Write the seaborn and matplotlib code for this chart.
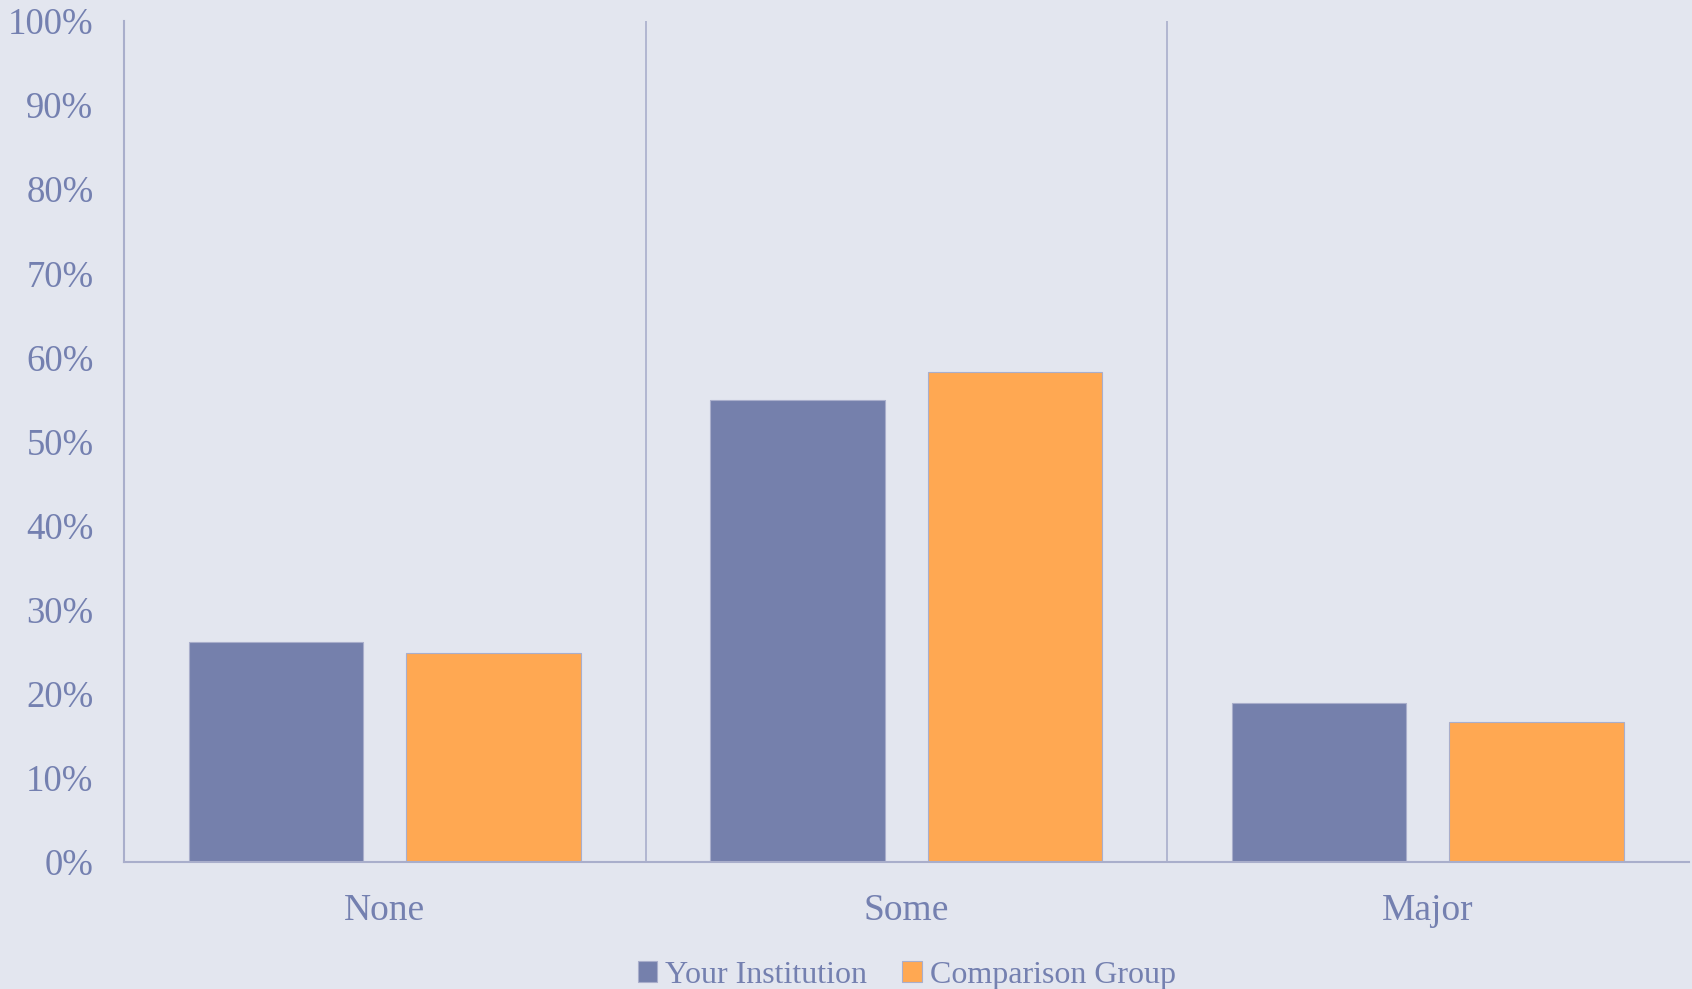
import matplotlib
matplotlib.use("Agg")
import matplotlib.pyplot as plt
import seaborn as sns
import pandas as pd
from matplotlib.ticker import PercentFormatter

categories = ["None", "Some", "Major"]
series_names = ["Your Institution", "Comparison Group"]
your_inst = [26.2, 54.9, 18.9]
comparison = [24.9, 58.3, 16.7]
yticks = [0, 10, 20, 30, 40, 50, 60, 70, 80, 90, 100]

bg = "#E3E6EF"
txt = "#7480B0"
line_c = "#A9AECB"
colors = ["#7580AC", "#FFA852"]

df = pd.DataFrame({
    "Category": categories * 2,
    "Series": [series_names[0]] * 3 + [series_names[1]] * 3,
    "Value": your_inst + comparison,
})

sns.set_style("white")
plt.rcParams["font.family"] = ["Liberation Serif", "DejaVu Serif"]

fig = plt.figure(figsize=(16.92, 9.89), dpi=100, facecolor=bg)
ax = fig.add_axes([0.0733, 0.1284, 0.9247, 0.8504])
ax.set_facecolor(bg)

sns.barplot(data=df, x="Category", y="Value", hue="Series", order=categories,
            hue_order=series_names, palette=colors, saturation=1,
            width=0.834, gap=0.197,
            edgecolor=line_c, linewidth=0.8, ax=ax, legend=True)

ax.set_xlim(-0.5, 2.5)
ax.set_ylim(0, 100)
ax.set_yticks(yticks)
ax.yaxis.set_major_formatter(PercentFormatter(decimals=0))
ax.set_xlabel("")
ax.set_ylabel("")
for x in [0.5, 1.5]:
    ax.axvline(x, color=line_c, lw=1.2, zorder=0)

for s in ["top", "right"]:
    ax.spines[s].set_visible(False)
for s in ["left", "bottom"]:
    ax.spines[s].set_color(line_c)
    ax.spines[s].set_linewidth(1.5)

ax.tick_params(axis="y", length=0, labelsize=26.5, labelcolor=txt, pad=22)
ax.tick_params(axis="x", length=0, labelsize=27, labelcolor=txt, pad=23)

leg = ax.get_legend()
handles = leg.legend_handles
leg.remove()
fig.legend(handles, series_names, loc="center", bbox_to_anchor=(0.536, 0.014),
           ncol=2, frameon=False, fontsize=23, labelcolor=txt,
           handlelength=0.6, handleheight=0.6, handletextpad=0.25,
           columnspacing=1.1, borderaxespad=0)

fig.savefig("out.png", dpi=100, facecolor=bg)
